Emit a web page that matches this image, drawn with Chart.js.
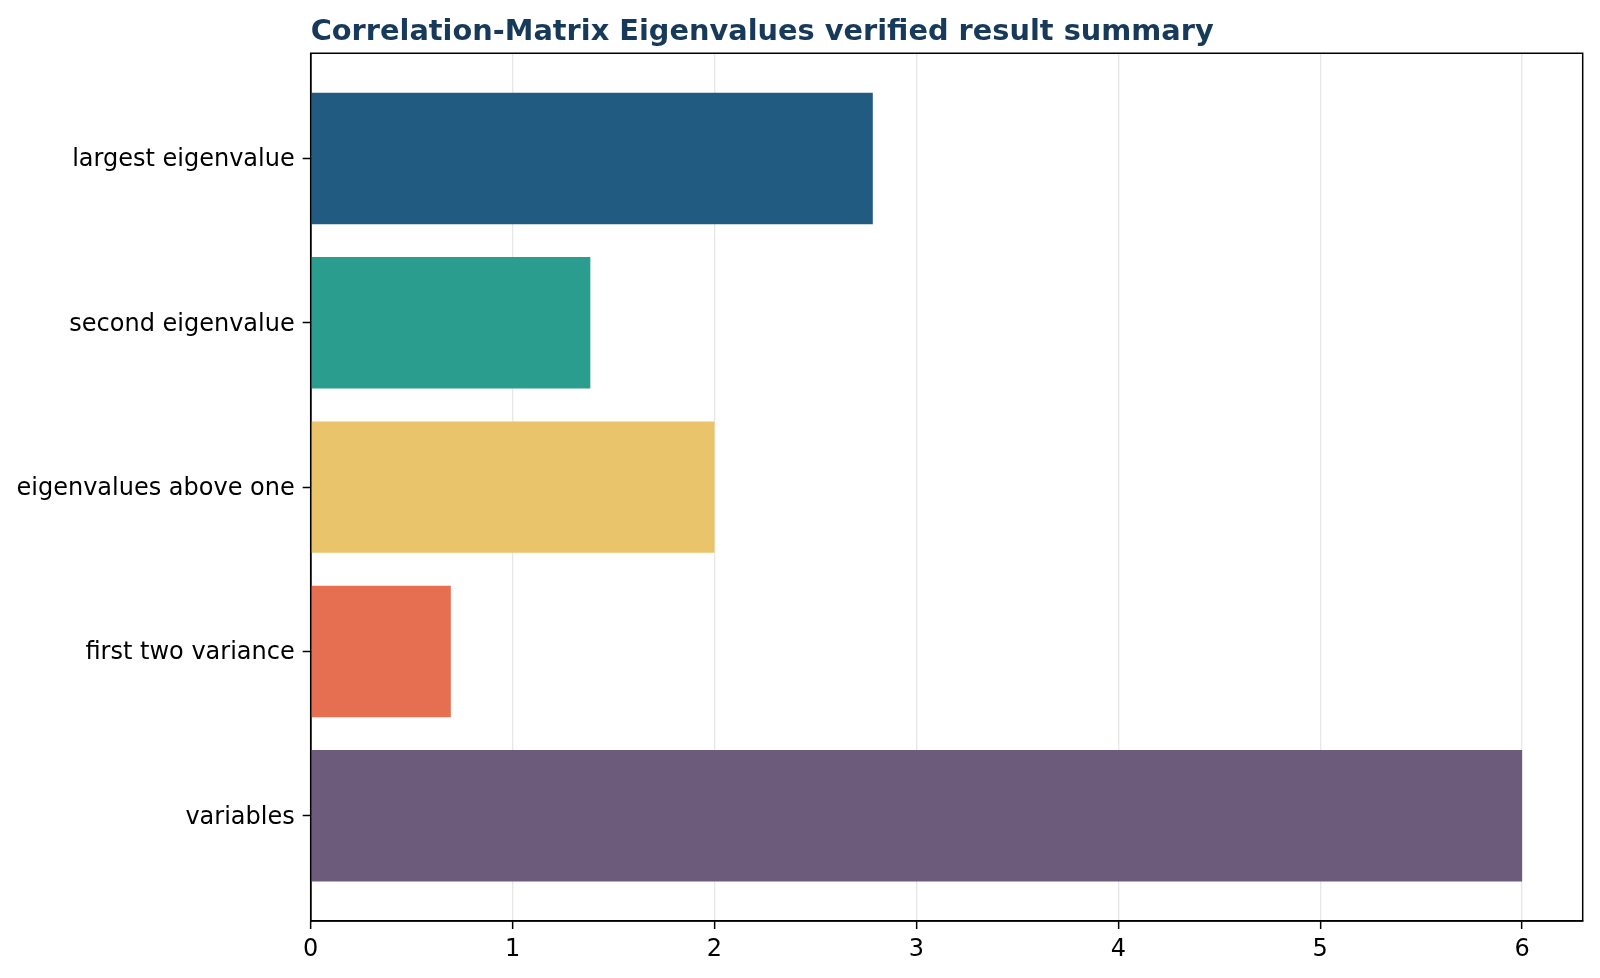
<!DOCTYPE html>
<html>
<head>
<meta charset="utf-8">
<script src="https://cdn.jsdelivr.net/npm/chart.js@4.4.1/dist/chart.umd.min.js"></script>
<style>
  html, body { margin: 0; padding: 0; background: #ffffff; }
  #wrap { width: 1600px; height: 978px; position: relative; }
</style>
</head>
<body>
<div id="wrap"><canvas id="c" width="1600" height="978"></canvas></div>
<script>
const titleText = "Correlation-Matrix Eigenvalues verified result summary";
const categories = ["largest eigenvalue", "second eigenvalue", "eigenvalues above one", "first two variance", "variables"];
const values = [2.784, 1.385, 2.0, 0.694, 6.0];
const barColors = ["#215b82", "#2a9d8f", "#e9c46a", "#e76f51", "#6c5b7b"];
const xTicks = [0, 1, 2, 3, 4, 5, 6];

const frame = {
  id: 'frame',
  afterDraw(chart) {
    const a = chart.chartArea, ctx = chart.ctx;
    ctx.save();
    ctx.strokeStyle = '#000';
    ctx.lineWidth = 1.5;
    ctx.strokeRect(a.left, a.top, a.right - a.left, a.bottom - a.top);
    ctx.restore();
  }
};

new Chart(document.getElementById('c'), {
  type: 'bar',
  data: {
    datasets: [{
      data: categories.map((c, i) => ({ x: values[i], y: i })),
      backgroundColor: barColors,
      borderWidth: 0,
      categoryPercentage: 1.0,
      barPercentage: 0.8
    }]
  },
  options: {
    indexAxis: 'y',
    responsive: false,
    animation: false,
    devicePixelRatio: 1,
    layout: { padding: { left: 0, right: 17.3, top: 0, bottom: 0 } },
    plugins: {
      legend: { display: false },
      tooltip: { enabled: false },
      title: {
        display: true,
        text: titleText,
        align: 'start',
        fullSize: false,
        color: '#173a5a',
        font: { family: 'DejaVu Sans', size: 28.8, weight: 'bold', lineHeight: 1.2 },
        padding: { top: 15.2, bottom: 3.5 }
      }
    },
    scales: {
      x: {
        type: 'linear',
        min: 0,
        max: 6.3,
        z: 1,
        afterFit(s) { s.height = 57; },
        afterBuildTicks(s) { s.ticks = xTicks.map(v => ({ value: v })); },
        ticks: {
          includeBounds: false,
          color: '#000',
          font: { family: 'DejaVu Sans', size: 24 },
          padding: 6,
          callback: v => String(v)
        },
        grid: {
          color: 'rgba(176,176,176,0.3)',
          lineWidth: 1.3,
          drawTicks: true,
          tickLength: 8,
          tickColor: '#000',
          tickWidth: 1.5
        },
        border: { display: true, color: '#000', width: 1.5 }
      },
      y: {
        type: 'linear',
        min: -0.64,
        max: 4.64,
        reverse: true,
        offset: false,
        afterFit(s) { s.width = 310.7; },
        afterBuildTicks(s) { s.ticks = categories.map((c, i) => ({ value: i })); },
        ticks: {
          color: '#000',
          font: { family: 'DejaVu Sans', size: 24 },
          padding: 8,
          labelOffset: 1.5,
          callback: v => categories[v]
        },
        grid: {
          offset: false,
          drawOnChartArea: false,
          drawTicks: true,
          tickLength: 8,
          tickColor: '#000',
          tickWidth: 1.5
        },
        border: { display: true, color: '#000', width: 1.5 }
      }
    }
  },
  plugins: [frame]
});
</script>
</body>
</html>
